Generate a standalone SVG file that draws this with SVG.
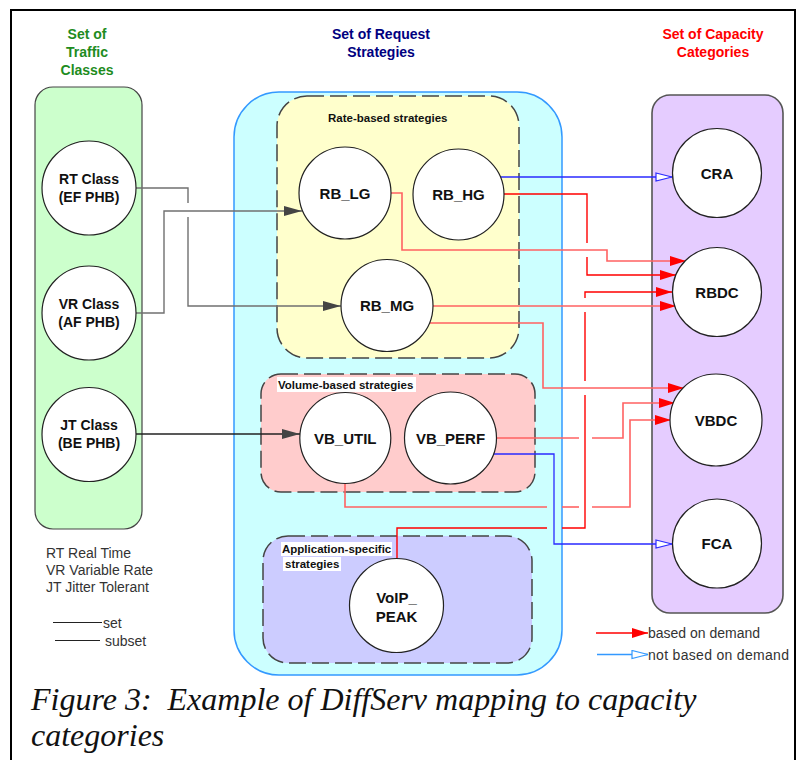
<svg xmlns="http://www.w3.org/2000/svg" width="796" height="760" viewBox="0 0 796 760">
<defs>
<style>
.t{font-family:"Liberation Sans",Arial,sans-serif}
.b{font-weight:bold}
.node{fill:#fff;stroke:#222;stroke-width:1.2}
.nt{font-family:"Liberation Sans",Arial,sans-serif;font-weight:bold;font-size:15px;fill:#111;text-anchor:middle}
.ct{font-family:"Liberation Sans",Arial,sans-serif;font-weight:bold;font-size:14px;fill:#111;text-anchor:middle}
.dash{stroke:#444;stroke-width:1.5;stroke-dasharray:17 6}
.lbl{font-family:"Liberation Sans",Arial,sans-serif;font-weight:bold;font-size:11.5px;fill:#111}
.gray{fill:none;stroke:#707070;stroke-width:1.4}
.blk{fill:none;stroke:#222;stroke-width:1.3}
.red{fill:none;stroke:#ff0000;stroke-width:1.4}
.lred{fill:none;stroke:#ff6262;stroke-width:1.6}
.blue{fill:none;stroke:#2a2aff;stroke-width:1.3}
.leg{font-family:"Liberation Sans",Arial,sans-serif;font-size:14px;fill:#333}
</style>
<marker id="mg" markerWidth="18" markerHeight="10" refX="18" refY="5" orient="auto" markerUnits="userSpaceOnUse"><path d="M0,0 L18,5 L0,10 z" fill="#444"/></marker>
<marker id="mr" markerWidth="16" markerHeight="10" refX="16" refY="5" orient="auto" markerUnits="userSpaceOnUse"><path d="M0,0 L16,5 L0,10 z" fill="#ff0000"/></marker>
<marker id="mb" markerWidth="18" markerHeight="10" refX="17" refY="5" orient="auto" markerUnits="userSpaceOnUse"><path d="M1,1 L17,5 L1,9 z" fill="#fff" stroke="#2a2aff" stroke-width="1.2"/></marker>
<marker id="mlb" markerWidth="18" markerHeight="10" refX="17" refY="5" orient="auto" markerUnits="userSpaceOnUse"><path d="M1,1 L17,5 L1,9 z" fill="#fff" stroke="#3399ff" stroke-width="1.2"/></marker>
</defs>
<rect width="796" height="760" fill="#fff"/>
<path d="M11,760 V10 H795 V760" fill="none" stroke="#000" stroke-width="2"/>

<!-- titles -->
<g id="title-traffic" class="t b" font-size="14" fill="#1e8c1e" text-anchor="middle">
<text x="87" y="39">Set of</text><text x="87" y="57">Traffic</text><text x="87" y="75">Classes</text>
</g>
<g id="title-request" class="t b" font-size="14" fill="#00007f" text-anchor="middle">
<text x="381" y="39">Set of Request</text><text x="381" y="57">Strategies</text>
</g>
<g id="title-capacity" class="t b" font-size="14" fill="#ff0000" text-anchor="middle">
<text x="713" y="39">Set of Capacity</text><text x="713" y="57">Categories</text>
</g>

<!-- containers -->
<g id="set-traffic"><rect x="35" y="87" width="107" height="442" rx="18" fill="#ccffcc" stroke="#444" stroke-width="1.2"/></g>
<g id="set-request"><rect x="234" y="92" width="328" height="583" rx="45" fill="#ccffff" stroke="#3399ff" stroke-width="1.5"/></g>
<g id="set-capacity"><rect x="652" y="95" width="131" height="518" rx="18" fill="#e5ccff" stroke="#555" stroke-width="1.6"/></g>
<g id="rate-based">
<rect x="277" y="96" width="242" height="262" rx="30" fill="#ffffcc" class="dash"/>
<text class="lbl" x="328" y="122">Rate-based strategies</text>
</g>
<g id="volume-based">
<rect x="261" y="374" width="274" height="118" rx="20" fill="#ffcccc" class="dash"/>
<rect x="277" y="377" width="139" height="15" fill="#fff"/>
<text class="lbl" x="278" y="388.5">Volume-based strategies</text>
</g>
<g id="app-specific">
<rect x="263" y="536" width="269" height="127" rx="25" fill="#ccccff" class="dash"/>
<rect x="281" y="542" width="111" height="14" fill="#fff"/>
<rect x="283" y="557" width="58" height="14" fill="#fff"/>
<text class="lbl" x="282" y="553">Application-specific</text>
<text class="lbl" x="285" y="568">strategies</text>
</g>

<!-- connectors -->
<g id="connectors">
<path class="gray" d="M136,188 H188 V203"/>
<path class="gray" d="M188,217 V306 H341" marker-end="url(#mg)"/>
<path class="gray" d="M136,313 H164 V211 H302" marker-end="url(#mg)"/>
<path class="blk" d="M136,434 H300" marker-end="url(#mg)"/>

<path class="blue" d="M500,177 H672" marker-end="url(#mb)"/>
<path class="blue" d="M493,454 H554 V544 H672" marker-end="url(#mb)"/>

<path class="lred" d="M391,193 H402 V250 H607 V261 H686" marker-end="url(#mr)"/>
<path class="red" d="M504,194 H587 V243"/>
<path class="red" d="M587,257 V275 H676" marker-end="url(#mr)"/>
<path class="red" d="M397,559 V528 H547"/>
<path class="red" d="M562,528 H585 V395"/>
<path class="red" d="M585,381 V312"/>
<path class="red" d="M585,298 V292 H672" marker-end="url(#mr)"/>
<path class="lred" d="M433,306 H676" marker-end="url(#mr)"/>
<path class="lred" d="M430,323 H543 V388 H684" marker-end="url(#mr)"/>
<path class="lred" d="M497,438 H579"/>
<path class="lred" d="M592,438 H623 V403 H675" marker-end="url(#mr)"/>
<path class="lred" d="M345,484 V507 H547"/>
<path class="lred" d="M562,507 H579"/>
<path class="lred" d="M592,507 H630 V420 H671" marker-end="url(#mr)"/>
</g>

<!-- nodes -->
<g id="rt-class"><circle class="node" cx="89" cy="188" r="47"/><text class="ct" x="89" y="184">RT Class</text><text class="ct" x="89" y="202">(EF PHB)</text></g>
<g id="vr-class"><circle class="node" cx="89" cy="313" r="47"/><text class="ct" x="89" y="309">VR Class</text><text class="ct" x="89" y="327">(AF PHB)</text></g>
<g id="jt-class"><circle class="node" cx="89" cy="434.5" r="47"/><text class="ct" x="89" y="430">JT Class</text><text class="ct" x="89" y="448">(BE PHB)</text></g>

<g id="rb-lg"><circle class="node" cx="345" cy="193" r="46"/><text class="nt" x="345" y="198.5">RB_LG</text></g>
<g id="rb-hg"><circle class="node" cx="458.5" cy="194.5" r="45.5"/><text class="nt" x="458.5" y="200">RB_HG</text></g>
<g id="rb-mg"><circle class="node" cx="387" cy="305.5" r="46"/><text class="nt" x="387" y="311">RB_MG</text></g>
<g id="vb-util"><circle class="node" cx="345.3" cy="438" r="45.5"/><text class="nt" x="345.3" y="443.5">VB_UTIL</text></g>
<g id="vb-perf"><circle class="node" cx="450.5" cy="438" r="46"/><text class="nt" x="450.5" y="443.5">VB_PERF</text></g>
<g id="voip-peak"><circle class="node" cx="396.5" cy="605.5" r="47"/><text class="nt" x="396.5" y="603">VoIP_</text><text class="nt" x="396.5" y="622">PEAK</text></g>

<g id="cra"><circle class="node" cx="717" cy="173" r="44.5"/><text class="nt" x="717" y="178.5">CRA</text></g>
<g id="rbdc"><circle class="node" cx="717" cy="292" r="44.5"/><text class="nt" x="717" y="297.5">RBDC</text></g>
<g id="vbdc"><circle class="node" cx="716" cy="420" r="46"/><text class="nt" x="716" y="425.5">VBDC</text></g>
<g id="fca"><circle class="node" cx="717" cy="543.5" r="44.5"/><text class="nt" x="717" y="549">FCA</text></g>

<!-- legends -->
<g id="legend-abbrev">
<text class="leg" x="46" y="558">RT Real Time</text>
<text class="leg" x="46" y="575">VR Variable Rate</text>
<text class="leg" x="46" y="592">JT Jitter Tolerant</text>
</g>
<g id="legend-lines">
<line x1="53" y1="622.5" x2="102" y2="622.5" stroke="#222" stroke-width="1.2"/>
<text class="leg" x="103" y="627.5" fill="#111">set</text>
<line x1="55" y1="640.5" x2="100" y2="640.5" stroke="#222" stroke-width="1.2"/>
<text class="leg" x="105" y="645.5" fill="#111">subset</text>
</g>
<g id="legend-arrows">
<path d="M596,633 H648" stroke="#ff0000" stroke-width="1.3" fill="none" marker-end="url(#mr)"/>
<text class="leg" x="648" y="638">based on demand</text>
<path d="M597,654.5 H648" stroke="#3399ff" stroke-width="1.3" fill="none" marker-end="url(#mlb)"/>
<text class="leg" x="648" y="659.5" textLength="141">not based on demand</text>
</g>

<g id="caption" font-family="'Liberation Serif','Times New Roman',serif" font-style="italic" font-size="32" fill="#111">
<text x="31" y="710" xml:space="preserve">Figure 3:  Example of DiffServ mapping to capacity</text>
<text x="31" y="746">categories</text>
</g>
</svg>
